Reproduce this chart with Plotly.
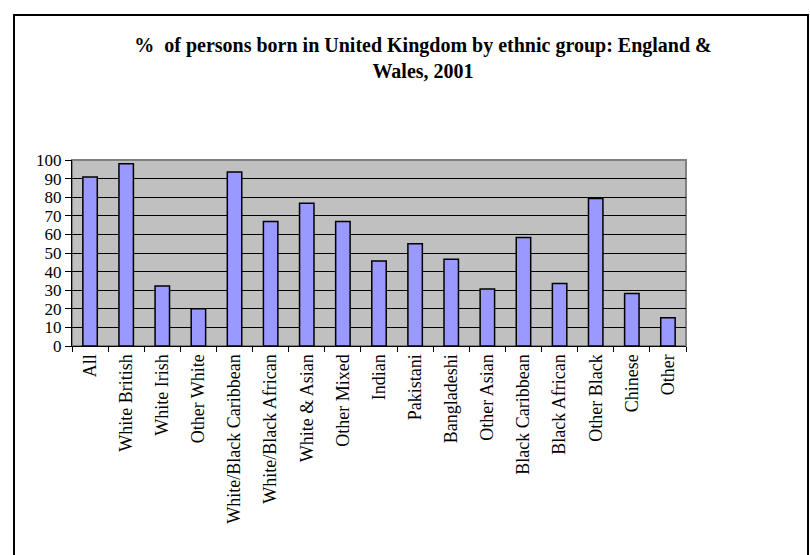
import plotly.graph_objects as go

categories = ["All", "White British", "White Irish", "Other White", "White/Black Caribbean",
              "White/Black African", "White & Asian", "Other Mixed", "Indian", "Pakistani",
              "Bangladeshi", "Other Asian", "Black Caribbean", "Black African", "Other Black",
              "Chinese", "Other"]
values = [90.8, 98.0, 32.3, 20.0, 93.5, 67.0, 76.8, 67.0, 45.7, 55.0, 46.6, 30.6, 58.4, 33.6, 79.3, 28.2, 15.2]
y_ticks = [0, 10, 20, 30, 40, 50, 60, 70, 80, 90, 100]

W, H = 810, 555
L, R, T, B = 72, 686, 160, 346

def px_x(p):
    return (p - L) / (R - L)

def px_y(p):
    return (B - p) / (B - T)

fig = go.Figure(go.Bar(
    x=categories, y=values,
    marker=dict(color="#9999FF", line=dict(color="black", width=1.5)),
    width=0.4,
))

fig.update_layout(
    width=W, height=H,
    margin=dict(l=L, r=W - R, t=T, b=H - B),
    paper_bgcolor="white",
    plot_bgcolor="#C0C0C0",
    showlegend=False,
    font=dict(family="Liberation Serif, Times New Roman, serif", color="black"),
    title=dict(
        text="%  of persons born in United Kingdom by ethnic group: England &<br>Wales, 2001",
        x=px_x(423), xanchor="center", xref="paper",
        y=1 - 52 / H, yanchor="top",
        font=dict(size=20, family="Liberation Serif, Times New Roman, serif", weight="bold"),
    ),
    bargap=0.6,
)

fig.update_xaxes(
    tickangle=-90, tickfont=dict(size=18),
    ticks="outside", ticklen=5, tickcolor="black", tickson="boundaries",
    showline=True, linecolor="black", linewidth=1,
    showgrid=False, range=[-0.5, 16.5],
)
fig.update_yaxes(
    range=[0, 100], tickvals=y_ticks, ticktext=[str(v) for v in y_ticks],
    tickfont=dict(size=17), ticks="outside", ticklen=6, tickcolor="black",
    showline=True, linecolor="black", linewidth=1,
    showgrid=True, gridcolor="black", gridwidth=1,
    zeroline=False,
)

# plot area grey border
fig.add_shape(type="rect", xref="paper", yref="paper", x0=0, x1=1, y0=0, y1=1,
              line=dict(color="#808080", width=2), layer="below")
# outer chart frame
fig.add_shape(type="rect", xref="paper", yref="paper",
              x0=px_x(14), x1=px_x(808), y0=px_y(575), y1=px_y(15),
              line=dict(color="black", width=2))

fig.write_html("out.html")
